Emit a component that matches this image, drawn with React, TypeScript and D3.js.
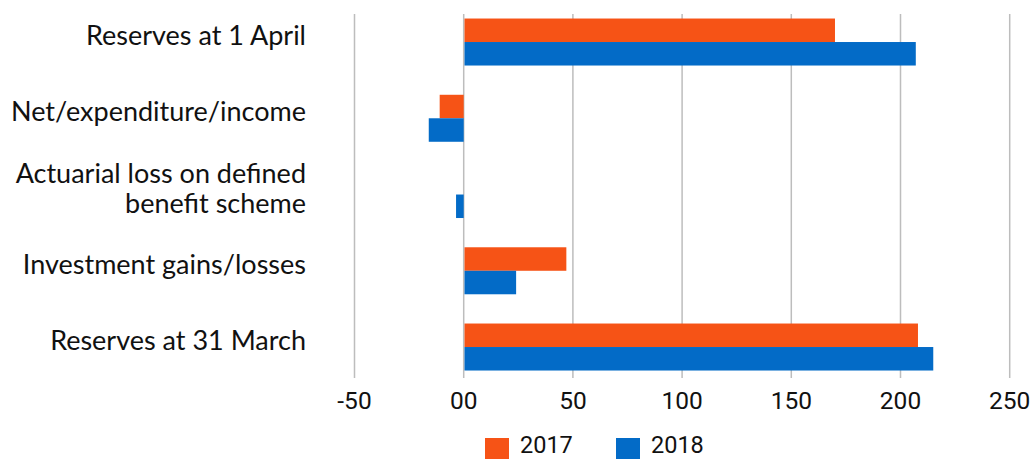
import React from "react";
import * as d3 from "d3";

const categories = [
  "Reserves at 1 April",
  "Net/expenditure/income",
  "Actuarial loss on defined\nbenefit scheme",
  "Investment gains/losses",
  "Reserves at 31 March",
];
const values2017 = [170, -11, 0, 47, 208];
const values2018 = [207, -16, -3.5, 24, 215];
const seriesNames = ["2017", "2018"];
const seriesColors = ["#F65316", "#036BC7"];
const tickValues = [-50, 0, 50, 100, 150, 200, 250];
const tickLabels = ["-50", "00", "50", "100", "150", "200", "250"];

const W = 1033;
const H = 459;

export default function App() {
  const x = d3.scaleLinear().domain([-50, 250]).range([354.5, 1009.7]);
  const y = d3
    .scaleBand<string>()
    .domain(categories)
    .range([3.9, 385.15])
    .paddingInner(0.3836)
    .paddingOuter(0.1918);
  const sub = d3
    .scaleBand<string>()
    .domain(seriesNames)
    .range([0, y.bandwidth()]);

  const series = [values2017, values2018];
  const labelFont = "Lato, 'Open Sans', sans-serif";
  const numFont = "Roboto, 'Liberation Sans', sans-serif";

  return (
    <svg
      width={W}
      height={H}
      style={{ position: "absolute", left: 0, top: 0, background: "#fff" }}
    >
      {/* vertical gridlines */}
      {tickValues.map((t) => (
        <line
          key={"g" + t}
          x1={x(t)}
          x2={x(t)}
          y1={14}
          y2={378}
          stroke="#bdbdbd"
          strokeWidth={1.5}
        />
      ))}

      {/* bars */}
      {series.map((vals, si) =>
        vals.map((v, ci) => {
          if (v === 0) return null;
          const x0 = x(Math.min(0, v));
          const x1 = x(Math.max(0, v));
          return (
            <rect
              key={si + "-" + ci}
              x={x0 + (v > 0 ? 0.8 : 0)}
              y={(y(categories[ci]) as number) + (sub(seriesNames[si]) as number)}
              width={x1 - x0 - (v > 0 ? 0.8 : 0)}
              height={sub.bandwidth()}
              fill={seriesColors[si]}
            />
          );
        })
      )}

      {/* category labels */}
      {categories.map((c) => {
        const lines = c.split("\n");
        const cy = (y(c) as number) + y.bandwidth() / 2;
        const lh = 30;
        return (
          <text
            key={c}
            x={306}
            textAnchor="end"
            fontFamily={labelFont}
            fontSize={27}
            fill="#111"
          >
            {lines.map((l, i) => (
              <tspan
                key={i}
                x={306}
                y={cy + 3 + (i - (lines.length - 1) / 2) * lh}
              >
                {l}
              </tspan>
            ))}
          </text>
        );
      })}

      {/* x tick labels */}
      {tickValues.map((t, i) => (
        <text
          key={"t" + t}
          x={x(t)}
          y={409}
          textAnchor="middle"
          fontFamily={numFont}
          fontSize={24.5}
          fill="#111"
        >
          {tickLabels[i]}
        </text>
      ))}

      {/* legend */}
      {seriesNames.map((s, i) => (
        <g key={"l" + s} transform={`translate(${485 + i * 131},0)`}>
          <rect x={0} y={438} width={24} height={21} fill={seriesColors[i]} />
          <text
            x={35}
            y={453}
            fontFamily={numFont}
            fontSize={23.5}
            fill="#111"
          >
            {s}
          </text>
        </g>
      ))}
    </svg>
  );
}
